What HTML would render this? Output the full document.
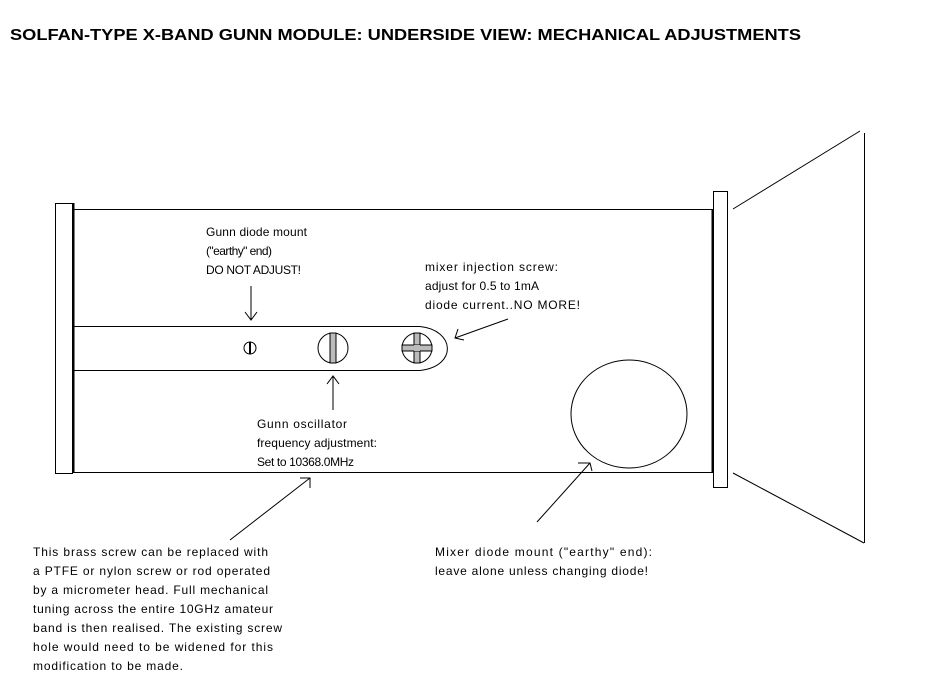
<!DOCTYPE html>
<html><head><meta charset="utf-8"><style>
html,body{margin:0;padding:0;background:#fff;}
svg{display:block;}
text{font-family:"Liberation Sans",sans-serif;font-size:12px;fill:#000;}
</style></head><body>
<svg width="947" height="691" viewBox="0 0 947 691" xmlns="http://www.w3.org/2000/svg">
<text x="10" y="40" textLength="791" lengthAdjust="spacingAndGlyphs" style="font-size:16px;font-weight:bold">SOLFAN-TYPE X-BAND GUNN  MODULE: UNDERSIDE VIEW: MECHANICAL ADJUSTMENTS</text>
<g fill="none" stroke="#000" stroke-width="1">
<rect x="55.5" y="203.5" width="17" height="270" fill="#fff"/>
<line x1="73.5" y1="203" x2="73.5" y2="473" stroke-width="2"/>
<line x1="73" y1="209.5" x2="713" y2="209.5"/>
<line x1="73" y1="472.5" x2="713" y2="472.5"/>
<line x1="712.5" y1="209" x2="712.5" y2="473" stroke-width="2"/>
<rect x="713.5" y="191.5" width="14" height="296" fill="#fff"/>
<line x1="733" y1="209" x2="860" y2="131"/>
<line x1="733" y1="473" x2="864" y2="543"/>
<line x1="864.5" y1="133" x2="864.5" y2="543"/>
<path d="M73 326.5 H420 C455 330 458 366 420 370.5 H73"/>
<circle cx="250" cy="348" r="6"/>
<line x1="250" y1="342" x2="250" y2="354" stroke-width="2"/>
<circle cx="333" cy="348" r="15"/>
<rect x="330" y="333" width="6" height="30" fill="#bbb"/>
<circle cx="417" cy="348" r="15"/>
<rect x="414" y="333" width="6" height="30" fill="#bbb"/>
<rect x="402" y="345" width="30" height="6" fill="#bbb"/>
<rect x="414" y="345" width="6" height="6" fill="#bbb" stroke="none"/>
<ellipse cx="629" cy="414" rx="58" ry="54"/>
<line x1="251" y1="286" x2="251" y2="320"/>
<polyline points="245,312 251,320 257,312"/>
<line x1="333" y1="410" x2="333" y2="376"/>
<polyline points="327,384 333,376 339,384"/>
<line x1="508" y1="319" x2="455" y2="338"/>
<polyline points="458,329 455,338 464,340"/>
<line x1="230" y1="540" x2="310" y2="478"/>
<polyline points="300,478 310,478 310,488"/>
<line x1="537" y1="522" x2="590" y2="463"/>
<polyline points="578,463 590,463 592,471"/>
</g>
<g style="letter-spacing:0">
<text x="206" y="236" textLength="101">Gunn diode mount</text>
<text x="206" y="255" textLength="66">("earthy" end)</text>
<text x="206" y="274" textLength="95">DO NOT ADJUST!</text>
<text x="425" y="271" textLength="133">mixer injection screw:</text>
<text x="425" y="290" textLength="114">adjust for 0.5 to 1mA</text>
<text x="425" y="309" textLength="155">diode current..NO MORE!</text>
<text x="257" y="428" textLength="90">Gunn oscillator</text>
<text x="257" y="447" textLength="120">frequency adjustment:</text>
<text x="257" y="466" textLength="97">Set to 10368.0MHz</text>
<text x="33" y="556" textLength="235">This brass screw can be replaced with</text>
<text x="33" y="575" textLength="237">a PTFE or nylon screw or rod operated</text>
<text x="33" y="594" textLength="235">by a micrometer head. Full mechanical</text>
<text x="33" y="613" textLength="240">tuning across the entire 10GHz amateur</text>
<text x="33" y="632" textLength="249">band is then  realised. The existing screw</text>
<text x="33" y="651" textLength="240">hole would need to be widened for this</text>
<text x="33" y="670" textLength="150">modification to be made.</text>
<text x="435" y="556" textLength="217">Mixer diode mount ("earthy" end):</text>
<text x="435" y="575" textLength="213">leave alone unless changing diode!</text>
</g>
</svg>
</body></html>
